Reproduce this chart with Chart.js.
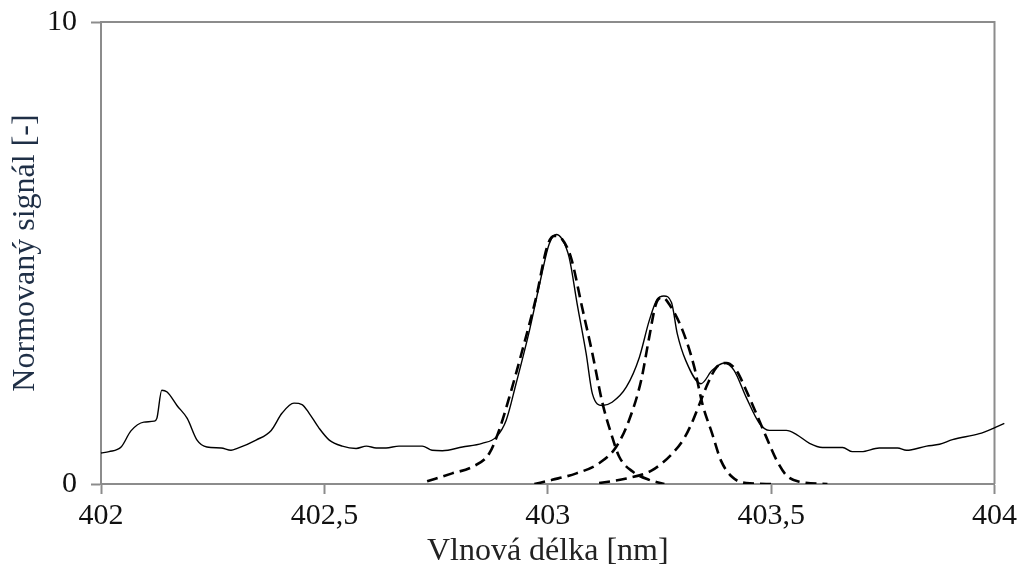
<!DOCTYPE html>
<html>
<head>
<meta charset="utf-8">
<title>Normovaný signál</title>
<script src="https://cdn.jsdelivr.net/npm/chart.js@4/dist/chart.umd.min.js"></script>
<style>
  html, body { margin: 0; padding: 0; background: #fff; }
  #wrap { width: 1021px; height: 571px; position: relative; }
</style>
</head>
<body>
<div id="wrap"><canvas id="spectrumChart"></canvas></div>
<script>
// Measured spectrum (solid line)
var measuredX = [402.000, 402.018, 402.045, 402.067, 402.096, 402.119, 402.125, 402.136, 402.148, 402.170,
    402.193, 402.215, 402.237, 402.269, 402.291, 402.305, 402.347, 402.381, 402.405, 402.432,
    402.450, 402.466, 402.488, 402.511, 402.540, 402.571, 402.594, 402.616, 402.638, 402.667,
    402.719, 402.741, 402.764, 402.809, 402.853, 402.885, 402.907, 402.929, 402.959, 402.985,
    403.003, 403.019, 403.032, 403.048, 403.066, 403.086, 403.100, 403.122, 403.144, 403.176,
    403.205, 403.227, 403.245, 403.260, 403.277, 403.290, 403.309, 403.343, 403.368, 403.395,
    403.417, 403.444, 403.474, 403.496, 403.534, 403.557, 403.586, 403.615, 403.660, 403.682,
    403.702, 403.742, 403.783, 403.803, 403.848, 403.877, 403.906, 403.966, 403.996, 404.022];
var measuredY = [0.67, 0.70, 0.80, 1.15, 1.34, 1.36, 1.42, 2.03, 1.99, 1.70,
    1.42, 0.95, 0.80, 0.78, 0.73, 0.77, 0.95, 1.16, 1.53, 1.75,
    1.72, 1.53, 1.21, 0.95, 0.82, 0.77, 0.82, 0.78, 0.78, 0.82,
    0.82, 0.73, 0.72, 0.80, 0.88, 1.02, 1.38, 2.17, 3.32, 4.47,
    5.19, 5.40, 5.30, 4.90, 3.89, 2.82, 1.95, 1.70, 1.77, 2.10,
    2.74, 3.53, 4.00, 4.07, 3.93, 3.25, 2.67, 2.17, 2.46, 2.62,
    2.46, 1.88, 1.31, 1.16, 1.16, 1.07, 0.88, 0.79, 0.79, 0.70,
    0.70, 0.78, 0.78, 0.73, 0.82, 0.86, 0.96, 1.09, 1.20, 1.31];

// Fitted peaks (dashed lines)
var peak1X = [402.730, 402.786, 402.831, 402.869, 402.891, 402.914, 402.943, 402.974, 402.999, 403.015,
    403.032, 403.052, 403.077, 403.100, 403.122, 403.142, 403.160, 403.190, 403.227, 403.261];
var peak1Y = [0.06, 0.23, 0.37, 0.66, 1.16, 1.88, 2.89, 4.04, 5.15, 5.37,
    5.30, 4.90, 3.82, 2.82, 1.77, 1.09, 0.59, 0.27, 0.09, 0.00];

var peak2X = [402.970, 403.010, 403.064, 403.115, 403.153, 403.182, 403.209, 403.227, 403.242, 403.257,
    403.272, 403.302, 403.328, 403.346, 403.368, 403.388, 403.413, 403.444, 403.501];
var peak2Y = [0.00, 0.09, 0.23, 0.45, 0.80, 1.38, 2.24, 3.17, 3.89, 4.04,
    3.89, 3.32, 2.53, 1.74, 1.09, 0.50, 0.15, 0.02, 0.00];

var peak3X = [403.115, 403.176, 403.234, 403.279, 403.306, 403.322, 403.340, 403.358, 403.378, 403.400,
    403.422, 403.444, 403.467, 403.489, 403.512, 403.534, 403.563, 403.626];
var peak3Y = [0.02, 0.12, 0.30, 0.66, 1.00, 1.31, 1.74, 2.17, 2.53, 2.62,
    2.46, 2.03, 1.52, 1.02, 0.52, 0.19, 0.05, 0.00];

var xMin = 402, xMax = 404, xStep = 0.5;
var yMin = 0, yMax = 10, yStep = 10;

function toPoints(xs, ys) {
    var pts = [];
    for (var i = 0; i < xs.length; i++) {
        pts.push({x: xs[i], y: ys[i]});
    }
    return pts;
}

var axisColor = '#8c8c8c';
var serif = "'Liberation Serif', 'DejaVu Serif', serif";

// draws the top and right edges of the plot box
var frameBox = {
    id: 'frameBox',
    beforeDatasetsDraw: function(chart) {
        var a = chart.chartArea;
        var ctx = chart.ctx;
        ctx.save();
        ctx.strokeStyle = axisColor;
        ctx.lineWidth = 2;
        ctx.beginPath();
        ctx.moveTo(a.left, a.top);
        ctx.lineTo(a.right, a.top);
        ctx.lineTo(a.right, a.bottom);
        ctx.stroke();
        ctx.restore();
    }
};

function dashed(xs, ys) {
    return {
        data: toPoints(xs, ys),
        showLine: true,
        borderColor: '#000',
        borderWidth: 2.6,
        borderDash: [11, 6],
        pointRadius: 0,
        tension: 0.4,
        cubicInterpolationMode: 'monotone'
    };
}

var ctx = document.getElementById('spectrumChart').getContext('2d');
var spectrumChart = new Chart(ctx, {
    type: 'scatter',
    data: {
        datasets: [
            {
                data: toPoints(measuredX, measuredY),
                showLine: true,
                borderColor: '#000',
                borderWidth: 1.4,
                pointRadius: 0,
                tension: 0.4,
                cubicInterpolationMode: 'monotone',
                clip: false
            },
            dashed(peak1X, peak1Y),
            dashed(peak2X, peak2Y),
            dashed(peak3X, peak3Y)
        ]
    },
    options: {
        responsive: true,
        maintainAspectRatio: false,
        animation: false,
        layout: { padding: { top: 22, right: 26, left: 0, bottom: 0 } },
        plugins: {
            legend: { display: false },
            tooltip: { enabled: false }
        },
        scales: {
            x: {
                type: 'linear',
                min: xMin,
                max: xMax,
                afterFit: function(scale) { scale.height = 87; },
                ticks: {
                    stepSize: xStep,
                    padding: 4,
                    color: '#111',
                    font: { family: serif, size: 30 },
                    callback: function(v) { return String(v).replace('.', ','); }
                },
                grid: {
                    drawOnChartArea: false,
                    drawTicks: true,
                    tickLength: 10,
                    tickWidth: 2,
                    tickColor: axisColor
                },
                border: { display: true, color: axisColor, width: 2 },
                title: {
                    display: true,
                    text: 'Vlnová délka [nm]',
                    color: '#222',
                    font: { family: serif, size: 32 },
                    padding: { top: 0, bottom: 0 }
                }
            },
            y: {
                min: yMin,
                max: yMax,
                afterFit: function(scale) {
                    scale.width = 101;
                    scale.paddingTop = 0;
                    scale.paddingBottom = 0;
                },
                ticks: {
                    stepSize: yStep,
                    padding: 14,
                    color: '#111',
                    font: { family: serif, size: 30 }
                },
                grid: {
                    drawOnChartArea: false,
                    drawTicks: true,
                    tickLength: 10,
                    tickWidth: 2,
                    tickColor: axisColor
                },
                border: { display: true, color: axisColor, width: 2 },
                title: {
                    display: true,
                    text: 'Normovaný signál [-]',
                    color: '#1f2f46',
                    font: { family: serif, size: 32 },
                    padding: { top: 6, bottom: 0 }
                }
            }
        }
    },
    plugins: [frameBox]
});
</script>
</body>
</html>
